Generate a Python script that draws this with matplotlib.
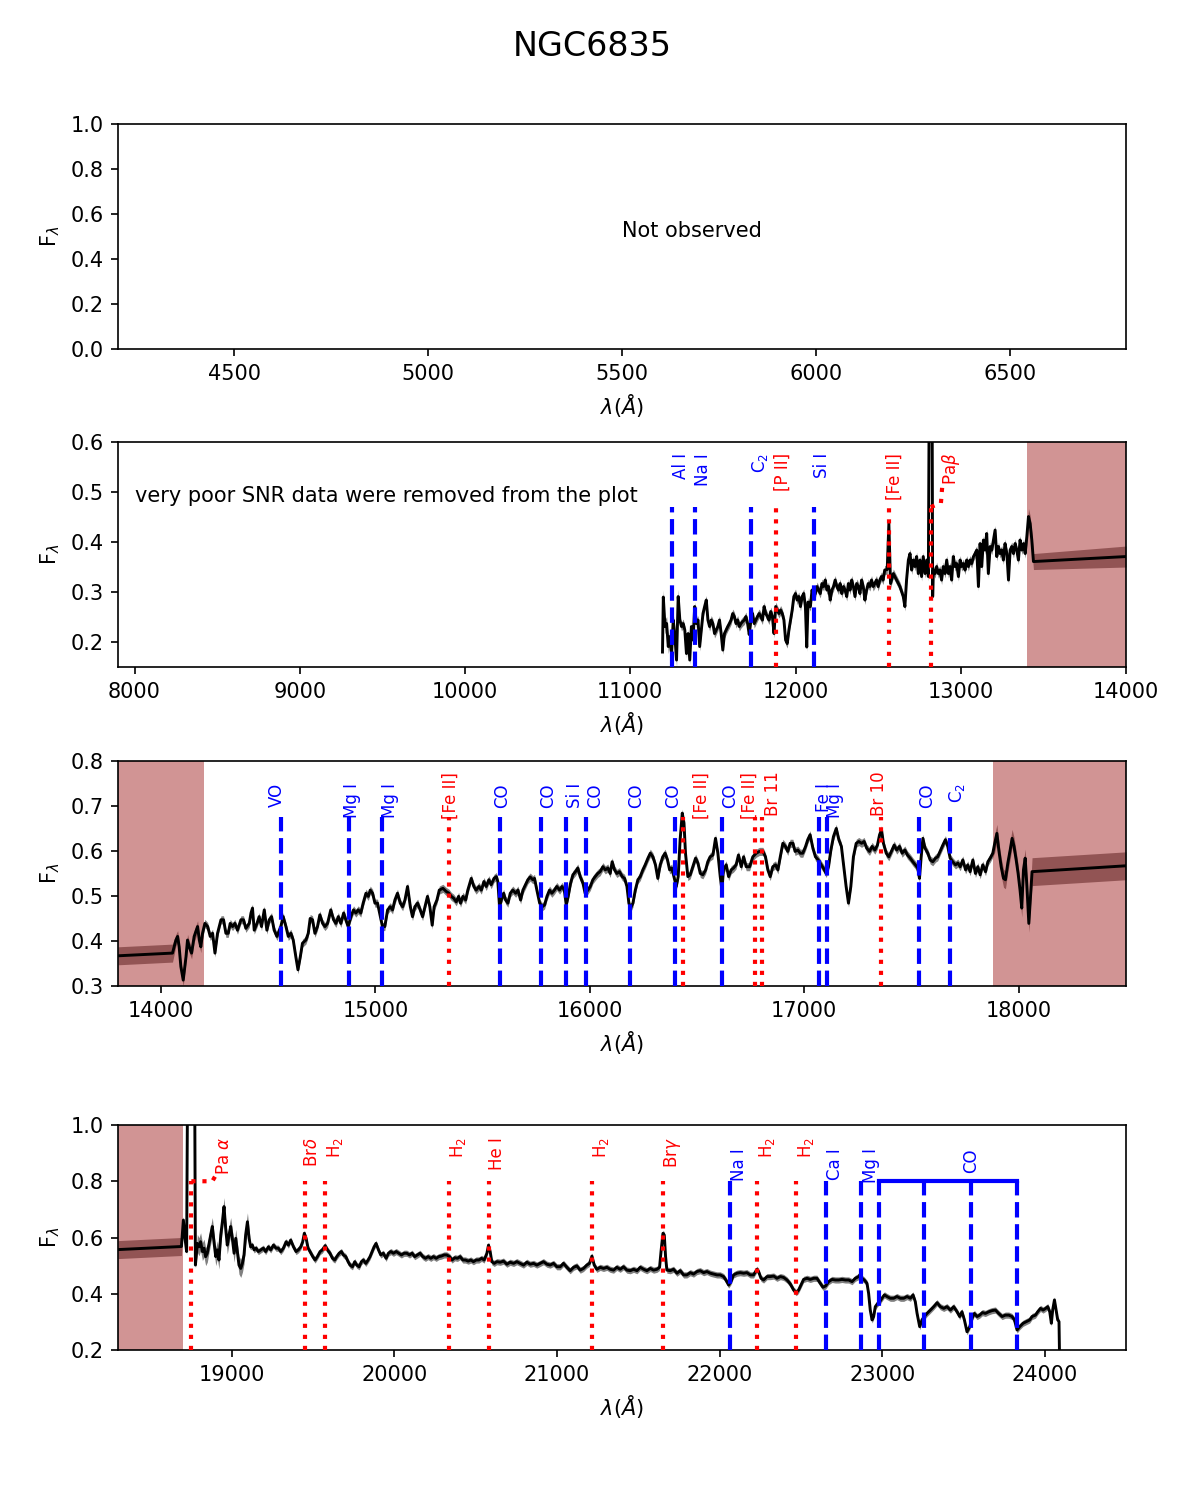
import numpy as np
import matplotlib
matplotlib.use('Agg')
import matplotlib.pyplot as plt

title = 'NGC6835'

# ---------------- Panel 2 (J band) ----------------
p2_wl = [11195, 11200, 11210, 11220, 11230, 11240, 11250, 11260, 11270, 11280, 11290,
         11300, 11310, 11320, 11330, 11340, 11350, 11360, 11370, 11380, 11390,
         11400, 11410, 11420, 11430, 11440, 11450, 11460, 11470, 11480, 11490,
         11500, 11510, 11520, 11530, 11540, 11550, 11560, 11570, 11580, 11590,
         11600, 11610, 11620, 11630, 11640, 11650, 11660, 11670, 11680, 11690,
         11700, 11710, 11720, 11730, 11740, 11750, 11760, 11770, 11780, 11790,
         11800, 11810, 11820, 11830, 11840, 11850, 11860, 11870, 11880, 11890,
         11900, 11910, 11920, 11930, 11940, 11950, 11960, 11970, 11980, 11990,
         12000, 12010, 12020, 12030, 12040, 12050, 12060, 12068, 12076, 12090,
         12100, 12110, 12120, 12130, 12140, 12150, 12160, 12170, 12180, 12190,
         12200, 12210, 12220, 12230, 12240, 12250, 12260, 12270, 12280, 12290,
         12300, 12310, 12320, 12330, 12340, 12350, 12360, 12370, 12380, 12390,
         12400, 12410, 12420, 12430, 12440, 12450, 12460, 12470, 12480, 12490,
         12500, 12510, 12520, 12530, 12540, 12555, 12565, 12575, 12592, 12612,
         12632, 12652, 12662, 12672, 12683, 12693, 12703, 12713, 12723, 12733,
         12743, 12753, 12763, 12773, 12784, 12794, 12804, 12812, 12825, 12830,
         12834, 12844, 12854, 12864, 12874, 12884, 12894, 12905, 12915, 12925,
         12935, 12945, 12955, 12965, 12975, 12986, 12996, 13006, 13016, 13026,
         13036, 13046, 13056, 13066, 13077, 13087, 13097, 13107, 13117, 13127,
         13137, 13147, 13157, 13167, 13178, 13188, 13198, 13208, 13218, 13228,
         13238, 13248, 13258, 13268, 13279, 13289, 13299, 13309, 13319, 13329,
         13339, 13349, 13359, 13370, 13380, 13390, 13400, 13410, 13420, 13430,
         13440, 14000]
p2_flux = [0.180, 0.290, 0.231, 0.237, 0.191, 0.211, 0.177, 0.244, 0.211, 0.164, 0.291,
           0.244, 0.231, 0.237, 0.224, 0.177, 0.217, 0.164, 0.231, 0.204, 0.271,
           0.237, 0.244, 0.191, 0.224, 0.257, 0.271, 0.284, 0.244, 0.231, 0.244,
           0.237, 0.217, 0.224, 0.231, 0.244, 0.217, 0.184, 0.217, 0.224, 0.231,
           0.237, 0.244, 0.257, 0.251, 0.237, 0.244, 0.231, 0.237, 0.241, 0.244,
           0.251, 0.237, 0.215, 0.244, 0.257, 0.237, 0.244, 0.251, 0.257, 0.251,
           0.244, 0.271, 0.257, 0.251, 0.244, 0.261, 0.251, 0.217, 0.271, 0.264,
           0.257, 0.264, 0.257, 0.244, 0.204, 0.197, 0.224, 0.244, 0.264, 0.291,
           0.297, 0.284, 0.291, 0.271, 0.291, 0.297, 0.270, 0.190, 0.280, 0.271,
           0.304, 0.291, 0.297, 0.311, 0.304, 0.297, 0.317, 0.311, 0.324, 0.304,
           0.311, 0.284, 0.304, 0.311, 0.324, 0.311, 0.304, 0.317, 0.297, 0.311,
           0.304, 0.291, 0.317, 0.304, 0.324, 0.311, 0.291, 0.317, 0.311, 0.297,
           0.324, 0.311, 0.284, 0.304, 0.317, 0.311, 0.324, 0.311, 0.317, 0.324,
           0.311, 0.324, 0.331, 0.324, 0.344, 0.345, 0.437, 0.317, 0.337, 0.324,
           0.311, 0.291, 0.271, 0.324, 0.364, 0.377, 0.344, 0.364, 0.351, 0.371,
           0.337, 0.364, 0.331, 0.371, 0.337, 0.364, 0.331, 0.900, 0.900, 0.291,
           0.344, 0.337, 0.351, 0.337, 0.344, 0.324, 0.351, 0.337, 0.364, 0.337,
           0.351, 0.324, 0.371, 0.351, 0.357, 0.331, 0.364, 0.351, 0.357, 0.344,
           0.364, 0.351, 0.364, 0.357, 0.371, 0.377, 0.384, 0.311, 0.397, 0.351,
           0.404, 0.384, 0.417, 0.337, 0.391, 0.384, 0.404, 0.424, 0.371, 0.391,
           0.377, 0.384, 0.364, 0.397, 0.377, 0.324, 0.384, 0.391, 0.377, 0.397,
           0.384, 0.364, 0.404, 0.384, 0.397, 0.377, 0.411, 0.451, 0.437, 0.404,
           0.361, 0.371]
p2_err_segments = [(11190, 11300, 0.014), (11300, 13395, 0.009),
                   (13395, 13445, 0.016), (13445, 14001, 0.021)]

# ---------------- Panel 3 (H band) ----------------
p3_wl = [13800, 14054, 14070, 14078, 14085, 14093, 14104, 14117, 14124, 14132, 14143,
         14155, 14171, 14179, 14186, 14194, 14205, 14218, 14230, 14241, 14252,
         14264, 14280, 14292, 14303, 14314, 14323, 14334, 14345, 14357, 14373,
         14385, 14396, 14412, 14420, 14427, 14435, 14448, 14458, 14469, 14482,
         14494, 14505, 14516, 14528, 14541, 14552, 14559, 14570, 14583, 14594,
         14606, 14617, 14629, 14639, 14650, 14660, 14676, 14687, 14696, 14707,
         14718, 14730, 14741, 14754, 14765, 14777, 14792, 14805, 14816, 14827,
         14839, 14852, 14862, 14873, 14886, 14898, 14909, 14920, 14932, 14943,
         14956, 14967, 14976, 14987, 14998, 15010, 15023, 15033, 15044, 15057,
         15069, 15080, 15091, 15103, 15116, 15127, 15138, 15150, 15163, 15173,
         15184, 15197, 15209, 15220, 15231, 15243, 15254, 15265, 15274, 15287,
         15298, 15315, 15330, 15343, 15354, 15365, 15377, 15388, 15397, 15408,
         15421, 15431, 15447, 15459, 15470, 15483, 15494, 15506, 15517, 15529,
         15540, 15553, 15564, 15571, 15579, 15587, 15598, 15607, 15618, 15629,
         15641, 15654, 15665, 15677, 15688, 15700, 15711, 15722, 15734, 15742,
         15753, 15766, 15778, 15789, 15800, 15812, 15823, 15835, 15846, 15859,
         15870, 15881, 15890, 15899, 15910, 15921, 15933, 15944, 15955, 15968,
         15978, 15991, 16002, 16014, 16025, 16037, 16048, 16061, 16072, 16084,
         16095, 16104, 16115, 16126, 16138, 16151, 16162, 16173, 16182, 16190,
         16201, 16212, 16224, 16235, 16247, 16258, 16271, 16282, 16294, 16306,
         16317, 16328, 16340, 16351, 16362, 16372, 16382, 16392, 16403, 16412,
         16421, 16431, 16439, 16446, 16457, 16468, 16480, 16493, 16504, 16515,
         16527, 16540, 16550, 16561, 16574, 16586, 16597, 16608, 16616, 16623,
         16636, 16647, 16659, 16670, 16682, 16693, 16706, 16717, 16729, 16745,
         16760, 16776, 16791, 16807, 16819, 16830, 16841, 16853, 16866, 16877,
         16888, 16900, 16912, 16923, 16934, 16947, 16957, 16970, 16981, 16993,
         17006, 17016, 17027, 17040, 17052, 17065, 17079, 17089, 17102, 17113,
         17124, 17136, 17149, 17161, 17173, 17184, 17195, 17206, 17217, 17229,
         17242, 17254, 17267, 17279, 17291, 17304, 17316, 17329, 17341, 17351,
         17360, 17369, 17382, 17394, 17406, 17419, 17431, 17444, 17456, 17469,
         17481, 17494, 17506, 17518, 17529, 17537, 17545, 17553, 17563, 17576,
         17587, 17599, 17612, 17622, 17633, 17646, 17658, 17669, 17680, 17692,
         17705, 17716, 17727, 17739, 17752, 17762, 17773, 17786, 17798, 17809,
         17820, 17832, 17845, 17856, 17867, 17879, 17888, 17898, 17907, 17918,
         17929, 17938, 17949, 17960, 17969, 17978, 17988, 17997, 18006, 18014,
         18022, 18030, 18038, 18047, 18055, 18062, 18500]
p3_flux = [0.367, 0.373, 0.402, 0.410, 0.387, 0.343, 0.313, 0.365, 0.402, 0.387, 0.373,
           0.410, 0.432, 0.402, 0.387, 0.417, 0.439, 0.432, 0.410, 0.417, 0.373,
           0.417, 0.447, 0.447, 0.417, 0.417, 0.439, 0.432, 0.439, 0.424, 0.447,
           0.447, 0.428, 0.439, 0.462, 0.473, 0.424, 0.439, 0.454, 0.432, 0.469,
           0.424, 0.447, 0.454, 0.424, 0.410, 0.424, 0.432, 0.454, 0.432, 0.410,
           0.417, 0.402, 0.365, 0.336, 0.365, 0.395, 0.402, 0.417, 0.450, 0.447,
           0.417, 0.432, 0.458, 0.439, 0.432, 0.439, 0.469, 0.447, 0.439, 0.454,
           0.439, 0.462, 0.447, 0.432, 0.454, 0.469, 0.462, 0.469, 0.462, 0.484,
           0.506, 0.499, 0.513, 0.506, 0.484, 0.484, 0.454, 0.432, 0.432, 0.469,
           0.476, 0.469, 0.491, 0.506, 0.484, 0.476, 0.491, 0.521, 0.476, 0.454,
           0.476, 0.484, 0.469, 0.454, 0.476, 0.499, 0.476, 0.435, 0.476, 0.491,
           0.513, 0.517, 0.510, 0.506, 0.499, 0.495, 0.487, 0.499, 0.484, 0.499,
           0.491, 0.513, 0.539, 0.521, 0.513, 0.521, 0.513, 0.532, 0.521, 0.536,
           0.525, 0.539, 0.543, 0.532, 0.476, 0.491, 0.506, 0.491, 0.484, 0.506,
           0.513, 0.506, 0.513, 0.491, 0.513, 0.525, 0.536, 0.542, 0.536, 0.539,
           0.513, 0.484, 0.476, 0.480, 0.499, 0.513, 0.506, 0.513, 0.521, 0.513,
           0.521, 0.513, 0.480, 0.499, 0.528, 0.547, 0.554, 0.562, 0.543, 0.528,
           0.506, 0.513, 0.521, 0.536, 0.543, 0.550, 0.554, 0.565, 0.558, 0.562,
           0.550, 0.576, 0.558, 0.550, 0.554, 0.543, 0.539, 0.521, 0.484, 0.473,
           0.484, 0.513, 0.536, 0.543, 0.558, 0.569, 0.584, 0.595, 0.587, 0.569,
           0.539, 0.569, 0.587, 0.595, 0.580, 0.558, 0.562, 0.543, 0.521, 0.543,
           0.625, 0.684, 0.662, 0.595, 0.543, 0.547, 0.565, 0.584, 0.573, 0.550,
           0.547, 0.558, 0.576, 0.587, 0.591, 0.628, 0.595, 0.543, 0.513, 0.558,
           0.569, 0.543, 0.558, 0.562, 0.569, 0.591, 0.565, 0.587, 0.565, 0.565,
           0.587, 0.595, 0.599, 0.599, 0.587, 0.558, 0.543, 0.565, 0.569, 0.558,
           0.587, 0.617, 0.610, 0.599, 0.617, 0.617, 0.599, 0.602, 0.595, 0.595,
           0.610, 0.625, 0.636, 0.606, 0.587, 0.580, 0.569, 0.562, 0.550, 0.565,
           0.602, 0.632, 0.650, 0.625, 0.610, 0.565, 0.521, 0.484, 0.521, 0.587,
           0.617, 0.621, 0.617, 0.621, 0.606, 0.599, 0.610, 0.602, 0.613, 0.636,
           0.647, 0.617, 0.595, 0.587, 0.599, 0.613, 0.602, 0.610, 0.595, 0.602,
           0.591, 0.584, 0.576, 0.569, 0.562, 0.539, 0.587, 0.628, 0.606, 0.595,
           0.580, 0.576, 0.584, 0.587, 0.599, 0.613, 0.625, 0.610, 0.584, 0.576,
           0.569, 0.573, 0.565, 0.580, 0.558, 0.569, 0.554, 0.580, 0.550, 0.565,
           0.547, 0.569, 0.554, 0.576, 0.584, 0.595, 0.617, 0.639, 0.602, 0.565,
           0.539, 0.536, 0.573, 0.602, 0.628, 0.610, 0.580, 0.550, 0.513, 0.473,
           0.558, 0.584, 0.521, 0.439, 0.499, 0.554, 0.567]
p3_err_segments = [(13790, 14060, 0.020), (14060, 14200, 0.013), (14200, 17880, 0.009),
                   (17880, 18058, 0.020), (18058, 18501, 0.031)]

# ---------------- Panel 4 (K band) ----------------
p4_wl = [18300, 18690, 18702, 18712, 18722, 18731, 18769, 18776, 18788, 18798, 18808,
         18819, 18829, 18839, 18849, 18860, 18870, 18880, 18890, 18901, 18911,
         18921, 18932, 18942, 18952, 18962, 18972, 18983, 18993, 19003, 19014,
         19024, 19034, 19044, 19055, 19065, 19075, 19085, 19096, 19106, 19116,
         19126, 19137, 19149, 19163, 19178, 19194, 19208, 19225, 19239, 19256,
         19272, 19286, 19301, 19317, 19334, 19348, 19362, 19379, 19395, 19409,
         19424, 19436, 19446, 19457, 19469, 19481, 19498, 19512, 19526, 19543,
         19557, 19574, 19588, 19604, 19619, 19633, 19645, 19660, 19674, 19686,
         19701, 19715, 19727, 19742, 19756, 19768, 19783, 19797, 19809, 19824,
         19838, 19850, 19863, 19875, 19887, 19902, 19916, 19932, 19949, 19963,
         19978, 19994, 20011, 20027, 20043, 20060, 20076, 20093, 20109, 20125,
         20142, 20158, 20175, 20191, 20207, 20224, 20240, 20257, 20273, 20289,
         20306, 20322, 20339, 20355, 20371, 20388, 20404, 20421, 20437, 20454,
         20470, 20486, 20503, 20520, 20536, 20552, 20569, 20579, 20589, 20599,
         20614, 20630, 20651, 20671, 20692, 20712, 20733, 20753, 20774, 20794,
         20815, 20835, 20856, 20876, 20897, 20917, 20938, 20958, 20979, 20999,
         21020, 21040, 21061, 21081, 21102, 21122, 21143, 21163, 21184, 21200,
         21215, 21229, 21245, 21266, 21286, 21307, 21327, 21348, 21368, 21389,
         21409, 21430, 21451, 21471, 21492, 21512, 21533, 21553, 21574, 21594,
         21615, 21631, 21641, 21652, 21660, 21668, 21676, 21697, 21717, 21738,
         21758, 21779, 21799, 21820, 21840, 21861, 21881, 21902, 21922, 21943,
         21963, 21984, 22004, 22025, 22039, 22056, 22070, 22086, 22107, 22127,
         22148, 22168, 22189, 22209, 22230, 22240, 22255, 22271, 22292, 22312,
         22333, 22353, 22374, 22394, 22415, 22435, 22456, 22472, 22486, 22501,
         22517, 22538, 22558, 22579, 22599, 22620, 22636, 22653, 22671, 22692,
         22712, 22733, 22753, 22774, 22794, 22815, 22835, 22856, 22866, 22876,
         22890, 22907, 22917, 22927, 22938, 22948, 22958, 22973, 22989, 22999,
         23014, 23030, 23050, 23071, 23091, 23112, 23133, 23153, 23174, 23190,
         23204, 23215, 23231, 23245, 23260, 23276, 23297, 23317, 23338, 23358,
         23379, 23399, 23420, 23440, 23461, 23477, 23491, 23506, 23522, 23539,
         23553, 23567, 23584, 23600, 23617, 23635, 23656, 23676, 23697, 23717,
         23738, 23758, 23779, 23799, 23814, 23830, 23846, 23867, 23887, 23908,
         23922, 23943, 23957, 23974, 23990, 24006, 24019, 24031, 24041, 24049,
         24060, 24070, 24080, 24088, 24092]
p4_flux = [0.557, 0.568, 0.662, 0.597, 0.550, 1.500, 1.500, 0.502, 0.579, 0.567, 0.585,
           0.550, 0.562, 0.532, 0.544, 0.579, 0.609, 0.639, 0.585, 0.532, 0.556,
           0.520, 0.609, 0.656, 0.710, 0.633, 0.573, 0.609, 0.639, 0.597, 0.544,
           0.597, 0.550, 0.502, 0.490, 0.508, 0.538, 0.609, 0.656, 0.597, 0.567,
           0.573, 0.556, 0.562, 0.550, 0.556, 0.562, 0.550, 0.567, 0.556, 0.573,
           0.562, 0.562, 0.550, 0.562, 0.585, 0.573, 0.591, 0.567, 0.550, 0.556,
           0.567, 0.585, 0.615, 0.597, 0.562, 0.550, 0.532, 0.520, 0.532, 0.550,
           0.556, 0.571, 0.556, 0.544, 0.526, 0.520, 0.532, 0.544, 0.550, 0.538,
           0.532, 0.514, 0.502, 0.496, 0.514, 0.502, 0.496, 0.514, 0.520, 0.508,
           0.520, 0.532, 0.550, 0.567, 0.579, 0.556, 0.538, 0.544, 0.526, 0.544,
           0.550, 0.544, 0.550, 0.544, 0.538, 0.544, 0.544, 0.538, 0.544, 0.532,
           0.538, 0.544, 0.532, 0.526, 0.532, 0.526, 0.532, 0.526, 0.532, 0.534,
           0.538, 0.538, 0.532, 0.520, 0.528, 0.526, 0.532, 0.520, 0.520, 0.516,
           0.520, 0.514, 0.520, 0.520, 0.526, 0.520, 0.544, 0.573, 0.550, 0.514,
           0.508, 0.514, 0.512, 0.516, 0.505, 0.512, 0.508, 0.514, 0.508, 0.502,
           0.512, 0.505, 0.508, 0.502, 0.508, 0.514, 0.505, 0.502, 0.508, 0.496,
           0.496, 0.508, 0.494, 0.482, 0.494, 0.499, 0.484, 0.490, 0.502, 0.508,
           0.534, 0.502, 0.487, 0.494, 0.490, 0.494, 0.487, 0.484, 0.494, 0.487,
           0.496, 0.484, 0.482, 0.487, 0.482, 0.494, 0.487, 0.482, 0.490, 0.484,
           0.487, 0.494, 0.556, 0.615, 0.609, 0.532, 0.484, 0.482, 0.487, 0.473,
           0.482, 0.467, 0.467, 0.475, 0.470, 0.479, 0.482, 0.475, 0.479, 0.473,
           0.470, 0.467, 0.467, 0.461, 0.449, 0.431, 0.443, 0.467, 0.473, 0.475,
           0.473, 0.475, 0.467, 0.467, 0.487, 0.479, 0.455, 0.449, 0.461, 0.461,
           0.463, 0.455, 0.461, 0.458, 0.449, 0.435, 0.413, 0.404, 0.413, 0.431,
           0.451, 0.455, 0.451, 0.455, 0.455, 0.437, 0.423, 0.428, 0.443, 0.451,
           0.449, 0.449, 0.451, 0.449, 0.449, 0.443, 0.455, 0.461, 0.470, 0.455,
           0.449, 0.437, 0.401, 0.342, 0.307, 0.319, 0.354, 0.366, 0.375, 0.384,
           0.396, 0.390, 0.384, 0.384, 0.390, 0.384, 0.384, 0.390, 0.384, 0.396,
           0.372, 0.330, 0.283, 0.307, 0.319, 0.330, 0.342, 0.354, 0.368, 0.354,
           0.348, 0.354, 0.342, 0.354, 0.336, 0.319, 0.336, 0.307, 0.265, 0.283,
           0.313, 0.330, 0.319, 0.324, 0.333, 0.330, 0.336, 0.340, 0.342, 0.330,
           0.319, 0.324, 0.324, 0.319, 0.307, 0.271, 0.283, 0.295, 0.301, 0.307,
           0.319, 0.324, 0.336, 0.348, 0.342, 0.348, 0.354, 0.336, 0.295, 0.342,
           0.378, 0.342, 0.307, 0.301, 0.150]
p4_err_segments = [(18290, 18695, 0.032), (18695, 18780, 0.012), (18780, 19110, 0.032),
                   (19110, 24100, 0.011)]

# ---------------- line identifications ----------------
p2_line_wl = [11250, 11392, 11729, 11882, 12109, 12567, 12818]
p2_line_lab = ['Al I', 'Na I', 'C$_2$', '[P II]', 'Si I', '[Fe II]', r'Pa$\beta$']
p2_line_kind = ['m', 'm', 'm', 'e', 'm', 'e', 'e']
p2_lab_wl = [11306, 11442, 11788, 11922, 12159, 12602, 12942]

p3_line_wl = [14559, 14876, 15030, 15343, 15580, 15770, 15891, 15980, 16186, 16398,
              16435, 16617, 16772, 16805, 17069, 17106, 17358, 17535, 17678]
p3_line_lab = ['VO', 'Mg I', 'Mg I', '[Fe II]', 'CO', 'CO', 'Si I', 'CO', 'CO', 'CO',
               '[Fe II]', 'CO', '[Fe II]', 'Br 11', 'Fe I', 'Mg I', 'Br 10', 'CO', 'C$_2$']
p3_line_kind = ['m', 'm', 'm', 'e', 'm', 'm', 'm', 'm', 'm', 'm',
                'e', 'm', 'e', 'e', 'm', 'm', 'e', 'm', 'm']
p3_lab_wl = [14541, 14891, 15068, 15351, 15590, 15807, 15929, 16023, 16215, 16389,
             16522, 16653, 16744, 16855, 17093, 17144, 17347, 17574, 17713]

p4_line_wl = [18751, 19448, 19571, 20334, 20580, 21213, 21655, 22062, 22230, 22470,
              22655, 22872, 22981, 23255, 23545, 23830]
p4_line_lab = [r'Pa $\alpha$', r'Br$\delta$', 'H$_2$', 'H$_2$', 'He I', 'H$_2$', r'Br$\gamma$',
               'Na I', 'H$_2$', 'H$_2$', 'Ca I', 'Mg I', '', '', 'CO', '']
p4_line_kind = ['e', 'e', 'e', 'e', 'e', 'e', 'e', 'm', 'e', 'e', 'm', 'm', 'm', 'm', 'm', 'm']
p4_lab_wl = [18950, 19494, 19632, 20391, 20632, 21270, 21712, 22117, 22289, 22529,
             22711, 22932, None, None, 23545, None]

# masked (telluric) regions
p2_mask = [(13400, 14000)]
p3_mask = [(13800, 14200), (17880, 18500)]
p4_mask = [(18300, 18700)]


def build_err(wl, segments):
    wl = np.asarray(wl, dtype=float)
    err = np.zeros_like(wl)
    for lo, hi, e in segments:
        err[(wl >= lo) & (wl < hi)] = e
    return err


def draw_spec(ax, wl, flux, segs, masks):
    wl = np.asarray(wl, dtype=float)
    flux = np.asarray(flux, dtype=float)
    err = build_err(wl, segs)
    ax.fill_between(wl, flux - err, flux + err, color='gray', lw=0, zorder=1)
    for lo, hi in masks:
        ax.axvspan(lo, hi, color='brown', alpha=0.5, lw=0, zorder=1.5)
    ax.plot(wl, flux, color='black', lw=1.4, zorder=2)


def draw_lines(ax, lwl, labs, kinds, labx, ytop, ylab_m, ylab_e):
    ybot = ax.get_ylim()[0]
    for w, lab, k, lx in zip(lwl, labs, kinds, labx):
        if k == 'm':
            ax.plot([w, w], [ybot, ytop], color='blue', ls='--', lw=2, zorder=3)
        else:
            ax.plot([w, w], [ybot, ytop], color='red', ls=':', lw=2, zorder=3)
        if lab and lx is not None:
            ax.text(lx, ylab_m if k == 'm' else ylab_e, lab, rotation=90,
                    color='blue' if k == 'm' else 'red', fontsize=8,
                    ha='center', va='top', zorder=4)


fig = plt.figure(figsize=(7.9, 10), dpi=150)
fig.suptitle(title, fontsize=16)

L, W, H = 0.0996, 0.8506, 0.15
xlab = r'$\lambda (\AA)$'
ylab = r'F$_\lambda$'

# Panel 1
ax1 = fig.add_axes([L, 0.7673, W, H])
ax1.set_xlim(4200, 6800)
ax1.set_ylim(0, 1)
ax1.set_xticks([4500, 5000, 5500, 6000, 6500])
ax1.set_yticks([0.0, 0.2, 0.4, 0.6, 0.8, 1.0])
ax1.text(5500, 0.5, 'Not observed', fontsize=10)
ax1.set_xlabel(xlab)
ax1.set_ylabel(ylab)

# Panel 2
ax2 = fig.add_axes([L, 0.5553, W, H])
ax2.set_xlim(7900, 14000)
ax2.set_ylim(0.15, 0.6)
ax2.set_xticks([8000, 9000, 10000, 11000, 12000, 13000, 14000])
ax2.set_yticks([0.2, 0.3, 0.4, 0.5, 0.6])
draw_spec(ax2, p2_wl, p2_flux, p2_err_segments, p2_mask)
draw_lines(ax2, p2_line_wl, p2_line_lab, p2_line_kind, p2_lab_wl, 0.47, 0.578, 0.578)
ax2.plot([12818, 12880, 12890], [0.47, 0.478, 0.52], color='red', ls=':', lw=2, zorder=3)
ax2.text(8000, 0.48, 'very poor SNR data were removed from the plot', fontsize=10)
ax2.set_xlabel(xlab)
ax2.set_ylabel(ylab)

# Panel 3
ax3 = fig.add_axes([L, 0.3427, W, H])
ax3.set_xlim(13800, 18500)
ax3.set_ylim(0.3, 0.8)
ax3.set_xticks([14000, 15000, 16000, 17000, 18000])
ax3.set_yticks([0.3, 0.4, 0.5, 0.6, 0.7, 0.8])
draw_spec(ax3, p3_wl, p3_flux, p3_err_segments, p3_mask)
draw_lines(ax3, p3_line_wl, p3_line_lab, p3_line_kind, p3_lab_wl, 0.675, 0.751, 0.776)
ax3.set_xlabel(xlab)
ax3.set_ylabel(ylab)

# Panel 4
ax4 = fig.add_axes([L, 0.1, W, H])
ax4.set_xlim(18300, 24500)
ax4.set_ylim(0.2, 1.0)
ax4.set_xticks([19000, 20000, 21000, 22000, 23000, 24000])
ax4.set_yticks([0.2, 0.4, 0.6, 0.8, 1.0])
draw_spec(ax4, p4_wl, p4_flux, p4_err_segments, p4_mask)
draw_lines(ax4, p4_line_wl, p4_line_lab, p4_line_kind, p4_lab_wl, 0.80, 0.918, 0.957)
ax4.plot([18751, 18880, 18900], [0.80, 0.80, 0.82], color='red', ls=':', lw=2, zorder=3)
ax4.plot([p4_line_wl[12], p4_line_wl[15]], [0.80, 0.80], color='blue', ls='-', lw=2, zorder=3)
ax4.set_xlabel(xlab)
ax4.set_ylabel(ylab)

fig.savefig('out.png', dpi=150)
